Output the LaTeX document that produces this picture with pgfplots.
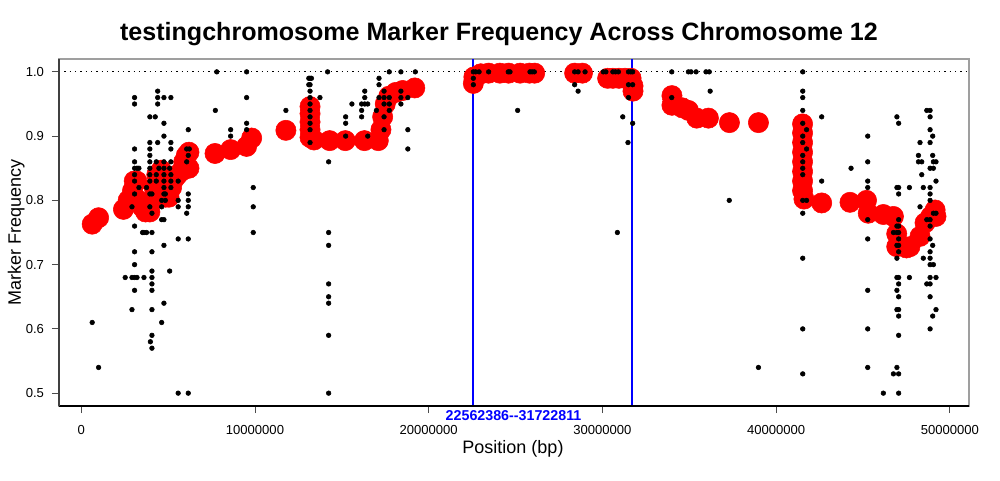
\documentclass[border=0pt]{standalone}
\usepackage{pgfplots}
\pgfplotsset{compat=1.18}
\usepackage{fontspec}
\setmainfont{Liberation Sans}
\definecolor{rred}{HTML}{FF0000}
\definecolor{rblue}{HTML}{0000FF}
\begin{document}
\begin{tikzpicture}
\path[use as bounding box] (-44.25pt,-55.5pt) rectangle (705.75pt,304.5pt);
\begin{axis}[
  at={(0,0)}, anchor=south west,
  scale only axis, width=682.5pt, height=260.25pt,
  xmin=-1.28, xmax=51.1, ymin=0.48, ymax=1.02,
  clip=true,
  axis line style={draw=gray!75, line width=0.8pt},
  tick align=outside, major tick length=5.25pt,
  tick style={black!70, line width=0.6pt},
  xtick={0,10,20,30,40,50},
  xticklabels={0,10000000,20000000,30000000,40000000,50000000},
  ytick={0.5,0.6,0.7,0.8,0.9,1.0},
  yticklabels={0.5,0.6,0.7,0.8,0.9,1.0},
  tick label style={font=\fontsize{9.8}{11}\selectfont},
  xticklabel style={yshift=-6pt},
  yticklabel style={xshift=-2.5pt},
  xtick pos=bottom, ytick pos=left,
]
% smoothed frequencies (red)
\addplot[only marks, mark=*, mark size=7.6pt, color=rred, mark options={draw=rred, fill=rred}] table {
x y
0.63 0.763
1.00 0.773
2.43 0.786
2.70 0.80
2.95 0.815
3.05 0.83
3.20 0.83
3.30 0.80
3.50 0.79
3.70 0.782
3.95 0.782
4.10 0.80
4.20 0.82
4.35 0.84
4.60 0.847
4.75 0.83
4.85 0.805
5.05 0.805
5.20 0.82
5.40 0.835
5.55 0.84
5.75 0.845
5.90 0.86
6.05 0.87
6.20 0.875
6.20 0.85
7.70 0.873
8.60 0.879
9.52 0.884
9.81 0.897
11.78 0.909
13.17 0.946
13.17 0.935
13.17 0.922
13.17 0.910
13.17 0.898
13.40 0.894
14.30 0.893
15.20 0.893
16.30 0.893
17.10 0.893
17.25 0.91
17.35 0.93
17.50 0.95
17.70 0.962
18.10 0.968
18.50 0.971
19.20 0.975
22.57 0.982
22.60 0.992
23.00 0.997
23.45 0.998
24.10 0.998
24.60 0.998
25.26 0.998
25.80 0.998
26.10 0.998
28.40 0.998
28.85 0.998
30.30 0.99
30.60 0.99
30.95 0.99
31.30 0.99
31.65 0.99
31.76 0.978
31.76 0.970
34.00 0.963
34.00 0.948
34.60 0.944
34.95 0.940
35.43 0.928
36.10 0.928
37.31 0.921
38.98 0.921
41.52 0.919
41.52 0.905
41.52 0.89
41.52 0.875
41.52 0.86
41.52 0.845
41.52 0.83
41.52 0.815
41.60 0.802
42.62 0.796
44.25 0.797
45.20 0.80
45.30 0.78
46.17 0.778
46.75 0.775
46.94 0.748
46.94 0.728
47.50 0.726
47.70 0.728
48.28 0.744
48.57 0.765
48.90 0.775
49.15 0.785
49.20 0.775
};
% raw marker frequencies (black)
\addplot[only marks, mark=*, mark size=1.75pt, color=black] table {
x y
0.63 0.61
1.00 0.54
3.07 0.96
3.07 0.95
3.07 0.88
3.07 0.86
3.07 0.85
3.07 0.84
3.07 0.83
3.07 0.81
3.07 0.76
3.07 0.72
3.07 0.70
3.07 0.68
3.07 0.66
2.92 0.79
2.92 0.68
2.92 0.63
2.53 0.68
3.21 0.85
3.21 0.68
3.32 0.85
3.32 0.82
3.53 0.75
3.61 0.75
3.61 0.68
3.76 0.82
3.76 0.75
3.95 0.93
3.95 0.89
3.95 0.88
3.95 0.87
3.95 0.86
3.95 0.85
3.95 0.84
3.95 0.83
3.95 0.81
3.95 0.79
4.07 0.81
4.07 0.78
4.07 0.75
4.07 0.72
4.07 0.69
4.07 0.68
4.07 0.67
4.07 0.66
4.07 0.63
4.07 0.59
4.07 0.57
3.98 0.58
4.26 0.93
4.32 0.86
4.32 0.84
4.32 0.83
4.40 0.97
4.40 0.96
4.40 0.95
4.40 0.89
4.47 0.85
4.63 0.80
4.63 0.79
4.63 0.77
4.63 0.61
4.76 0.96
4.76 0.92
4.76 0.90
4.76 0.86
4.76 0.85
4.76 0.84
4.76 0.83
4.76 0.82
4.76 0.81
4.76 0.77
4.76 0.73
4.76 0.64
4.84 0.81
4.84 0.80
5.09 0.85
5.09 0.69
5.16 0.96
5.16 0.89
5.16 0.88
5.16 0.86
5.16 0.84
5.16 0.83
5.16 0.82
5.58 0.83
5.58 0.80
5.58 0.79
5.58 0.74
5.58 0.50
6.07 0.88
6.07 0.86
6.07 0.78
6.16 0.91
6.16 0.87
6.16 0.81
6.16 0.80
6.16 0.79
6.16 0.74
6.16 0.50
6.22 0.88
7.80 1.00
7.72 0.94
8.60 0.91
8.60 0.90
9.52 1.00
9.52 0.96
9.52 0.92
9.52 0.91
9.90 0.82
9.90 0.79
9.90 0.75
11.78 0.94
13.17 0.99
13.10 0.99
13.25 0.99
13.17 0.98
13.10 0.98
13.17 0.97
13.17 0.96
13.17 0.95
13.17 0.94
13.17 0.93
13.17 0.92
13.17 0.91
13.17 0.89
13.74 0.96
14.18 1.00
14.24 0.86
14.24 0.75
14.24 0.73
14.24 0.67
14.24 0.65
14.24 0.64
14.24 0.59
14.24 0.50
15.22 0.93
15.22 0.92
15.22 0.90
15.58 0.95
16.14 0.95
16.14 0.94
16.14 0.93
16.32 0.97
16.32 0.96
16.32 0.95
16.49 0.95
16.49 0.90
16.99 0.94
17.14 0.99
17.14 0.98
17.14 0.96
17.43 0.97
17.43 0.96
17.43 0.95
17.43 0.93
17.43 0.91
17.73 1.00
17.73 0.96
17.73 0.95
17.73 0.94
18.40 1.00
18.40 0.97
18.40 0.96
18.40 0.95
18.80 0.96
18.80 0.91
18.80 0.88
19.23 1.00
22.57 1.00
22.57 0.99
22.57 0.98
22.70 1.00
22.90 1.00
23.45 1.00
24.58 1.00
24.68 1.00
25.12 0.94
25.83 1.00
25.95 1.00
26.08 1.00
28.40 1.00
28.40 0.98
28.60 1.00
28.60 0.97
29.00 1.00
30.05 1.00
30.20 1.00
30.60 1.00
30.75 1.00
30.92 1.00
30.86 0.75
31.17 0.93
31.47 0.89
31.50 1.00
31.50 0.98
31.50 0.96
31.63 1.00
31.74 1.00
31.74 0.98
31.74 0.92
33.99 1.00
33.99 0.96
34.95 1.00
35.10 1.00
35.39 1.00
35.96 1.00
36.15 1.00
36.20 0.97
37.30 0.80
38.98 0.54
41.53 1.00
41.53 0.97
41.53 0.96
41.53 0.94
41.53 0.92
41.53 0.90
41.53 0.89
41.53 0.87
41.53 0.86
41.53 0.85
41.53 0.84
41.53 0.80
41.53 0.78
41.53 0.71
41.53 0.60
41.53 0.53
41.75 0.91
41.75 0.88
41.75 0.80
42.62 0.93
42.62 0.83
44.31 0.85
45.27 0.90
45.27 0.86
45.27 0.83
45.27 0.82
45.27 0.77
45.27 0.74
45.27 0.66
45.27 0.60
45.27 0.54
46.17 0.50
46.95 0.93
46.95 0.82
46.95 0.76
46.95 0.75
46.95 0.73
46.95 0.71
46.95 0.68
46.95 0.66
46.95 0.63
46.95 0.54
47.05 0.92
47.05 0.82
47.05 0.81
47.05 0.77
47.05 0.76
47.05 0.75
47.05 0.74
47.05 0.73
47.05 0.72
47.05 0.68
47.05 0.67
47.05 0.65
47.05 0.63
47.05 0.62
47.05 0.59
47.05 0.53
47.05 0.50
46.75 0.75
46.75 0.53
47.67 0.82
47.67 0.68
48.67 0.94
48.67 0.77
48.67 0.67
48.86 0.94
48.86 0.93
48.86 0.91
48.86 0.89
48.86 0.85
48.86 0.82
48.86 0.81
48.86 0.80
48.86 0.77
48.86 0.76
48.86 0.74
48.86 0.72
48.86 0.71
48.86 0.70
48.86 0.68
48.86 0.67
48.86 0.65
48.86 0.60
49.01 0.90
49.01 0.87
49.01 0.73
49.01 0.62
49.05 0.86
49.05 0.85
49.05 0.78
49.05 0.70
48.28 0.89
48.28 0.79
48.19 0.87
48.19 0.86
48.38 0.86
48.38 0.84
48.47 0.82
48.47 0.71
49.20 0.86
49.20 0.83
49.20 0.78
49.20 0.68
49.20 0.63
};
% reference line at 1.0
\addplot[black, line width=0.9pt, dash pattern=on 1.1pt off 2.9pt] coordinates {(-1.28,1.0) (51.1,1.0)};
% interval bounds
\addplot[rblue, line width=1.5pt] coordinates {(22.562386,0.48) (22.562386,1.02)};
\addplot[rblue, line width=1.5pt] coordinates {(31.722811,0.48) (31.722811,1.02)};
\end{axis}
% dark bottom and left axis lines
\draw[black, line width=0.8pt] (0,0) -- (682.5pt,0);
\draw[black!75, line width=0.8pt] (0,0) -- (0,260.25pt);
% texts
\node[font=\fontsize{18.8}{22}\selectfont\bfseries] at (330pt,279pt) {testingchromosome Marker Frequency Across Chromosome 12};
\node[font=\fontsize{13.5}{16}\selectfont] at (340.5pt,-32.25pt) {Position (bp)};
\node[font=\fontsize{13.5}{16}\selectfont, rotate=90] at (-32pt,130.1pt) {Marker Frequency};
\node[font=\fontsize{10.7}{12}\selectfont\bfseries, text=rblue] at (340.9pt,-7.5pt) {22562386-{}-31722811};
\end{tikzpicture}
\end{document}
